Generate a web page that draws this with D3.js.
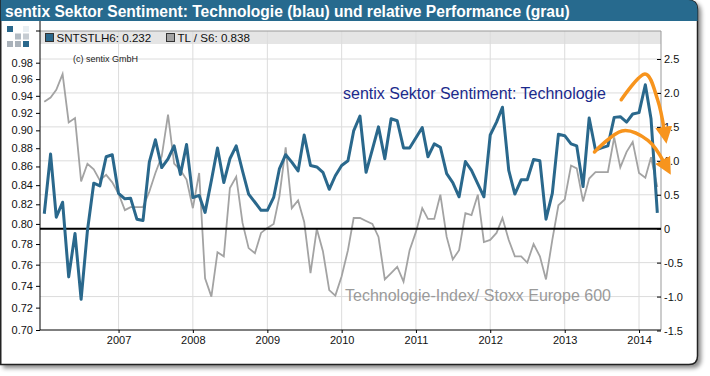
<!DOCTYPE html>
<html>
<head>
<meta charset="utf-8">
<script src="https://cdn.jsdelivr.net/npm/d3@7"></script>
<style>
	body { margin: 0; background: #fff; }
	svg { display: block; font-family: "Liberation Sans", Arial, sans-serif; }
</style>
</head>
<body>
<div id="chart"></div>
<script>
// monthly observations, Jan 2006 .. Apr 2014
const firstMonth = new Date(2006, 0, 1)
const endMonth = new Date(2014, 4, 1)

// sentix sector sentiment technology (right axis)
const sentimentValues = [
	0.22, 1.10, 0.17, 0.39, -0.71, -0.07, -1.04, -0.03, 0.67, 0.63,
	1.06, 1.09, 0.52, 0.44, 0.45, 0.14, 0.12, 0.98, 1.31, 0.90,
	1.03, 1.22, 0.80, 1.24, 0.46, 0.49, 0.24, 0.71, 1.19, 0.68,
	1.03, 1.22, 0.85, 0.51, 0.39, 0.27, 0.27, 0.46, 0.88, 1.09,
	0.98, 0.85, 1.38, 0.93, 0.91, 0.83, 0.58, 0.78, 0.93, 1.00,
	1.44, 1.66, 0.83, 1.17, 1.50, 1.03, 1.62, 1.59, 1.19, 1.19,
	1.34, 1.49, 1.06, 1.25, 1.20, 0.81, 0.68, 0.47, 0.99, 0.86,
	0.66, 0.47, 1.38, 1.57, 1.79, 0.86, 0.51, 0.72, 0.72, 1.02,
	1.00, 0.14, 0.52, 1.39, 1.37, 1.25, 1.22, 0.62, 1.63, 1.16,
	1.19, 1.22, 1.64, 1.65, 1.57, 1.69, 1.71, 2.12, 1.62, 0.232,
]

// Technologie-Index / Stoxx Europe 600 (left axis, log)
const performanceValues = [
	0.933, 0.938, 0.947, 0.966, 0.909, 0.914, 0.844, 0.863, 0.857, 0.845,
	0.851, 0.843, 0.831, 0.814, 0.817, 0.817, 0.817, 0.833, 0.853, 0.871,
	0.918, 0.863, 0.856, 0.846, 0.816, 0.853, 0.747, 0.730, 0.772, 0.768,
	0.837, 0.849, 0.801, 0.776, 0.771, 0.791, 0.796, 0.800, 0.828, 0.881,
	0.816, 0.824, 0.802, 0.752, 0.795, 0.773, 0.736, 0.731, 0.749, 0.774,
	0.806, 0.806, 0.803, 0.800, 0.787, 0.746, 0.752, 0.758, 0.744, 0.774,
	0.792, 0.816, 0.805, 0.805, 0.830, 0.787, 0.765, 0.774, 0.811, 0.809,
	0.830, 0.782, 0.784, 0.791, 0.806, 0.784, 0.768, 0.768, 0.762, 0.780,
	0.768, 0.746, 0.784, 0.819, 0.825, 0.861, 0.858, 0.823, 0.847, 0.854,
	0.854, 0.854, 0.892, 0.859, 0.876, 0.887, 0.853, 0.848, 0.870, 0.838,
]

const yearTicks = [2007, 2008, 2009, 2010, 2011, 2012, 2013, 2014]
const leftTicks = [0.70, 0.72, 0.74, 0.76, 0.78, 0.80, 0.82, 0.84, 0.86, 0.88, 0.90, 0.92, 0.94, 0.96, 0.98]
const rightTicks = [-1.5, -1.0, -0.5, 0, 0.5, 1.0, 1.5, 2.0, 2.5]
const rightTickLabels = ["-1.5", "-1.0", "-0.5", "0", "0.5", "1.0", "1.5", "2.0", "2.5"]
const legendLabels = ["SNTSTLH6: 0.232", "TL / S6: 0.838"]
const titleText = "sentix Sektor Sentiment: Technologie (blau) und relative Performance (grau)"

// hand drawn trend arrows, [decimal year, right axis value]
const arrowUpper = [[2013.76, 1.90], [2014.08, 2.28], [2014.25, 1.90], [2014.34, 1.45]]
const arrowLower = [[2013.40, 1.13], [2013.77, 1.44], [2014.12, 1.30], [2014.34, 0.97]]

const W = 710
const H = 376
const plot = { left: 40, right: 661, top: 31, bottom: 330 }

const blue = "#2a688c"
const grey = "#a3a3a3"
const orange = "#f7941d"

const svg = d3.select("#chart").append("svg").attr("width", W).attr("height", H)

const defs = svg.append("defs")
const shadow = defs.append("filter").attr("id", "shadow")
	.attr("x", "-5%").attr("y", "-5%").attr("width", "115%").attr("height", "115%")
shadow.append("feDropShadow")
	.attr("dx", 3).attr("dy", 3).attr("stdDeviation", 2)
	.attr("flood-color", "#000").attr("flood-opacity", 0.45)

defs.append("marker")
	.attr("id", "head")
	.attr("viewBox", "0 0 10 10")
	.attr("refX", 2).attr("refY", 5)
	.attr("markerUnits", "userSpaceOnUse")
	.attr("markerWidth", 17).attr("markerHeight", 17)
	.attr("orient", "auto")
	.append("path")
	.attr("d", "M0,0 L10,5 L0,10 Z")
	.attr("fill", orange)

// card with title bar
svg.append("path")
	.attr("d", "M0.75,0 H688 Q697.5,0 697.5,9.5 V356 Q697.5,364.5 689,364.5 H0.75 Z")
	.attr("fill", "#fff")
	.attr("stroke", "#222")
	.attr("stroke-width", 1.5)
	.attr("filter", "url(#shadow)")

svg.append("path")
	.attr("d", "M0.75,0 H688 Q697.5,0 697.5,9.5 V21 H0.75 Z")
	.attr("fill", "#276a8e")

svg.append("text")
	.attr("x", 5).attr("y", 17)
	.attr("fill", "#fff")
	.style("font-size", "15.6px")
	.style("font-weight", "bold")
	.text(titleText)

// logo squares
const logoCells = [[0, 0, blue], [2, 0, "#e8eef2"], [1, 1, "#b4bcc4"], [2, 1, "#c6ccd2"], [0, 2, "#aab2ba"], [1, 2, "#aab2ba"], [2, 2, blue]]
svg.append("g").selectAll("rect").data(logoCells).join("rect")
	.attr("x", (d) => 7 + d[0] * 8)
	.attr("y", (d) => 26 + d[1] * 7.5)
	.attr("width", 6).attr("height", 6)
	.attr("fill", (d) => d[2])

// scales
const months = d3.timeMonth.range(firstMonth, endMonth)

const x = d3.scaleTime()
	.domain([new Date(2005, 11, 11), new Date(2014, 3, 19)])
	.range([plot.left, plot.right])

const yLeft = d3.scaleLog().domain([0.70, 0.98]).range([330, 62.7])
const yRight = d3.scaleLinear().domain([-1.5, 2.5]).range([330.5, 59])

const yearDate = (y) => new Date(y, 0, 1)
const fracDate = (f) => {
	const y = Math.floor(f)
	return new Date(yearDate(y).getTime() + (f - y) * 365.25 * 864e5)
}

// legend band
svg.append("rect")
	.attr("x", plot.left).attr("y", plot.top)
	.attr("width", plot.right - plot.left).attr("height", 13)
	.attr("fill", "#e5e5e5")

// grid
svg.append("g")
	.selectAll("line")
	.data(yearTicks)
	.join("line")
	.attr("x1", (d) => x(yearDate(d))).attr("x2", (d) => x(yearDate(d)))
	.attr("y1", plot.top).attr("y2", plot.bottom)
	.attr("stroke", "#dcdcdc")

svg.append("g")
	.selectAll("line")
	.data(rightTicks.filter((d) => d !== 0 && d !== -1.5))
	.join("line")
	.attr("x1", plot.left).attr("x2", plot.right)
	.attr("y1", (d) => yRight(d)).attr("y2", (d) => yRight(d))
	.attr("stroke", "#dcdcdc")

// frame
svg.append("path")
	.attr("d", `M${plot.left},${plot.top}H${plot.right}V${plot.bottom}`)
	.attr("fill", "none")
	.attr("stroke", "#999")

// legend
const legend = svg.append("g").style("font-size", "11.6px")
legendLabels.forEach((label, i) => {
	const lx = i === 0 ? 45.5 : 166.5
	legend.append("rect")
		.attr("x", lx).attr("y", 33.5)
		.attr("width", 8).attr("height", 8)
		.attr("fill", i === 0 ? blue : grey)
		.attr("stroke", "#333")
	legend.append("text")
		.attr("x", lx + 11).attr("y", 42)
		.attr("fill", "#111")
		.text(label)
})

svg.append("text")
	.attr("x", 73).attr("y", 62)
	.attr("fill", "#222")
	.style("font-size", "9px")
	.text("(c) sentix GmbH")

// series
const perfLine = d3.line()
	.x((d, i) => x(months[i]))
	.y((d) => yLeft(d))

const sentLine = d3.line()
	.x((d, i) => x(months[i]))
	.y((d) => yRight(d))

svg.append("path")
	.datum(performanceValues)
	.attr("fill", "none")
	.attr("stroke", grey)
	.attr("stroke-width", 1.8)
	.attr("d", perfLine)

// zero line of the sentiment axis
svg.append("line")
	.attr("x1", plot.left).attr("x2", plot.right)
	.attr("y1", yRight(0)).attr("y2", yRight(0))
	.attr("stroke", "#000")
	.attr("stroke-width", 2)

svg.append("path")
	.datum(sentimentValues)
	.attr("fill", "none")
	.attr("stroke", blue)
	.attr("stroke-width", 3)
	.attr("stroke-linejoin", "round")
	.attr("d", sentLine)

// axes
const leftAxis = svg.append("g")
	.attr("transform", `translate(${plot.left},0)`)
	.call(d3.axisLeft(yLeft).tickValues(leftTicks).tickFormat(d3.format(".2f")).tickSize(4).tickSizeOuter(0))
leftAxis.select(".domain").attr("d", `M0,21V${plot.bottom}`).attr("stroke", "#000")
leftAxis.append("line").attr("x1", -4).attr("x2", 0).attr("y1", plot.top).attr("y2", plot.top).attr("stroke", "#000")

const rightAxis = svg.append("g")
	.attr("transform", `translate(${plot.right},0)`)
	.call(d3.axisRight(yRight).tickValues(rightTicks).tickFormat((d, i) => rightTickLabels[i]).tickSize(-4).tickSizeOuter(0))
rightAxis.select(".domain").remove()
rightAxis.selectAll(".tick text").attr("x", 3)

const bottomAxis = svg.append("g")
	.attr("transform", `translate(0,${plot.bottom})`)
	.call(d3.axisBottom(x).tickValues(yearTicks.map(yearDate)).tickFormat(d3.timeFormat("%Y")).tickSize(3).tickSizeOuter(0))
bottomAxis.select(".domain").attr("d", `M${plot.left},0H${plot.right}`).attr("stroke", "#000")
bottomAxis.selectAll(".tick text").attr("y", 6)

svg.selectAll(".tick text")
	.attr("fill", "#111")
	.style("font-family", "'Liberation Sans', Arial, sans-serif")
	.style("font-size", "11px")
bottomAxis.selectAll(".tick text")
	.style("font-family", "'Liberation Sans Narrow', 'Arial Narrow', sans-serif")
	.style("font-size", "11px")

// annotations
svg.append("text")
	.attr("x", 343).attr("y", 99)
	.attr("fill", "#1b2a8c")
	.style("font-size", "16px")
	.text("sentix Sektor Sentiment: Technologie")

svg.append("text")
	.attr("x", 345).attr("y", 301)
	.attr("fill", "#9a9a9a")
	.style("font-size", "16px")
	.text("Technologie-Index/ Stoxx Europe 600")

const arrowLine = d3.line()
	.x((d) => x(fracDate(d[0])))
	.y((d) => yRight(d[1]))
	.curve(d3.curveCardinal)

;[arrowUpper, arrowLower].forEach((pts) => {
	svg.append("path")
		.datum(pts)
		.attr("fill", "none")
		.attr("stroke", orange)
		.attr("stroke-width", 3.5)
		.attr("stroke-linecap", "round")
		.attr("marker-end", "url(#head)")
		.attr("d", arrowLine)
})
</script>
</body>
</html>
